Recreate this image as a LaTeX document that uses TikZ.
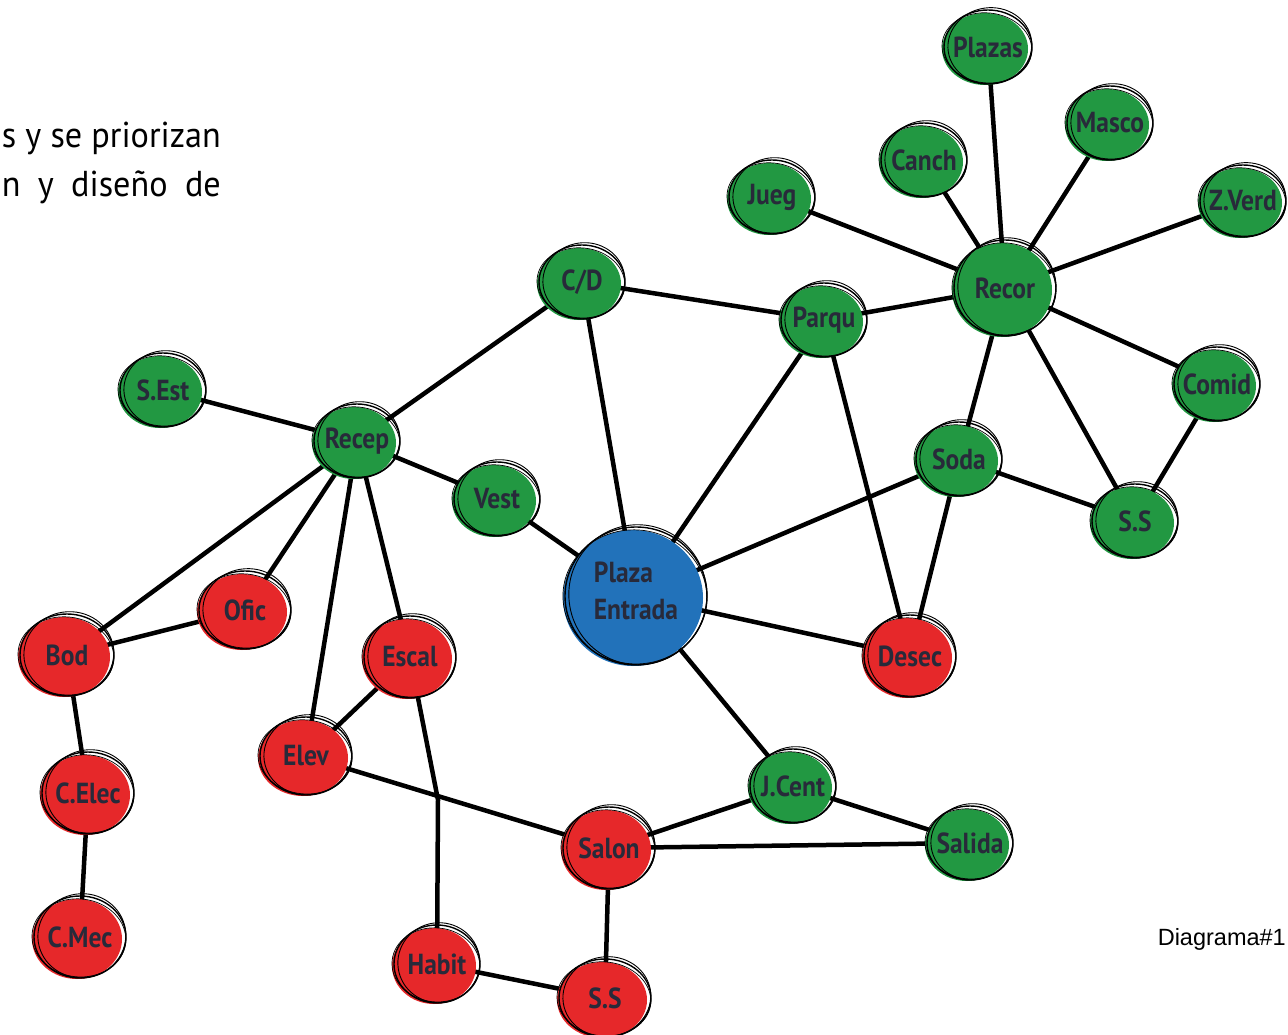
\documentclass[tikz,border=0pt]{standalone}
\usepackage{fontspec}
\setmainfont{PT Sans}
\newfontfamily\condb[FakeStretch=0.88]{PT Sans}
\newfontfamily\condr[FakeStretch=0.95]{PT Sans}
\newfontfamily\arialf{Liberation Sans}
\usetikzlibrary{backgrounds,calc}
\definecolor{gn}{RGB}{34,152,66}
\definecolor{rd}{RGB}{230,40,42}
\definecolor{bl}{RGB}{34,114,186}
\definecolor{tx}{RGB}{40,42,58}
\tikzset{
  edge/.style={line width=4.5pt},
  lbl/.style={font=\condb\bfseries\fontsize{29}{37}\selectfont, text=tx, inner sep=0pt},
  ringa/.style={line width=1.4pt},
  ringb/.style={line width=0.9pt},
  ringc/.style={line width=0.7pt},
}
\newcommand\sk[7]{%
  \fill[#6] (#2-3,#3+2) ellipse [x radius=#4, y radius=#5];
  \draw[ringa] (#2,#3) ellipse [x radius=#4+1, y radius=#5+1];
  \draw[ringb, rotate around={8:(#2,#3)}] (#2+2,#3-1) ellipse [x radius=#4-1, y radius=#5+2];
  \draw[ringc, rotate around={-6:(#2,#3)}] (#2-1,#3+1) ellipse [x radius=#4+2, y radius=#5-1];
  \node[lbl] (#1) at (#2,#3) {#7};
}
\begin{document}
\begin{tikzpicture}[x=1pt,y=-1pt]
\useasboundingbox (0,0) rectangle (1288,1035);

\node[anchor=east, inner sep=0pt, font=\condr\fontsize{36}{36}\selectfont] (t1) at (221,138) {\makebox[219pt][r]{s y se priorizan}};
\node[anchor=east, inner sep=0pt, font=\condr\fontsize{36}{36}\selectfont] (t2) at (221,187) {\makebox[219pt][s]{n\hfill y\hfill diseño\hfill de}};
\node[anchor=east, inner sep=0pt, font=\arialf\fontsize{23.5}{23.5}\selectfont] (dg) at (1286,939) {Diagrama\#1};

\sk{plazas}{988}{47}{43}{36}{gn}{Plazas}
\sk{masco}{1110}{123}{42}{36}{gn}{Masco}
\sk{canch}{924}{160}{42}{36}{gn}{Canch}
\sk{jueg}{772}{197}{42}{36}{gn}{Jueg}
\sk{zverd}{1243}{201}{42}{35}{gn}{Z.Verd}
\sk{recor}{1005}{288}{50}{47}{gn}{Recor}
\sk{cd}{582}{282}{42}{36}{gn}{C/D}
\sk{parqu}{824}{320}{42}{36}{gn}{Parqu}
\sk{sest}{163}{390}{42}{36}{gn}{S.Est}
\sk{recep}{357}{441}{42}{36}{gn}{Recep}
\sk{comid}{1217}{384}{42}{36}{gn}{Comid}
\sk{soda}{959}{459}{42}{36}{gn}{Soda}
\sk{vest}{497}{499}{42}{36}{gn}{Vest}
\sk{ssr}{1135}{521}{42}{36}{gn}{S.S}
\sk{plaza}{636}{596}{70}{68}{bl}{}
\node[lbl, align=left] (plazat) at (636,591) {Plaza\\Entrada};
\sk{ofic}{245}{610}{45}{38}{rd}{Ofic}
\sk{bod}{67}{655}{46}{40}{rd}{Bod}
\sk{escal}{410}{657}{45}{40}{rd}{Escal}
\sk{desec}{910}{656}{45}{40}{rd}{Desec}
\sk{elev}{306}{756}{45}{38}{rd}{Elev}
\sk{celec}{88}{793}{45}{40}{rd}{C.Elec}
\sk{jcent}{793}{786}{42}{36}{gn}{J.Cent}
\sk{salon}{609}{848}{45}{40}{rd}{Salon}
\sk{salida}{970}{843}{42}{36}{gn}{Salida}
\sk{cmec}{80}{937}{45}{40}{rd}{C.Mec}
\sk{habit}{437}{964}{42}{38}{rd}{Habit}
\sk{ssb}{605}{998}{45}{38}{rd}{S.S}

\coordinate (bend) at (438,800);
\begin{scope}[on background layer]
\fill[white] (0,0) rectangle (1288,1035);
\draw[edge] (plazas.center) -- (recor.center);
\draw[edge] (masco.center) -- (recor.center);
\draw[edge] (canch.center) -- (recor.center);
\draw[edge] (jueg.center) -- (recor.center);
\draw[edge] (zverd.center) -- (recor.center);
\draw[edge] (recor.center) -- (parqu.center);
\draw[edge] (recor.center) -- (comid.center);
\draw[edge] (recor.center) -- (soda.center);
\draw[edge] (recor.center) -- (ssr.center);
\draw[edge] (comid.center) -- (ssr.center);
\draw[edge] (soda.center) -- (ssr.center);
\draw[edge] (soda.center) -- (plaza.center);
\draw[edge] (soda.center) -- (desec.center);
\draw[edge] (parqu.center) -- (cd.center);
\draw[edge] (parqu.center) -- (plaza.center);
\draw[edge] (parqu.center) -- (desec.center);
\draw[edge] (cd.center) -- (plaza.center);
\draw[edge] (cd.center) -- (recep.center);
\draw[edge] (sest.center) -- (recep.center);
\draw[edge] (recep.center) -- (vest.center);
\draw[edge] (vest.center) -- (plaza.center);
\draw[edge] (recep.center) -- (bod.center);
\draw[edge] (recep.center) -- (ofic.center);
\draw[edge] (recep.center) -- (elev.center);
\draw[edge] (recep.center) -- (escal.center);
\draw[edge] (bod.center) -- (ofic.center);
\draw[edge] (bod.center) -- (celec.center);
\draw[edge] (celec.center) -- (cmec.center);
\draw[edge] (escal.center) -- (elev.center);
\draw[edge] (escal.center) -- (bend) -- (habit.center);
\draw[edge] (elev.center) -- (salon.center);
\draw[edge] (plaza.center) -- (desec.center);
\draw[edge] (plaza.center) -- (jcent.center);
\draw[edge] (jcent.center) -- (salon.center);
\draw[edge] (jcent.center) -- (salida.center);
\draw[edge] (salon.center) -- (salida.center);
\draw[edge] (salon.center) -- (ssb.center);
\draw[edge] (habit.center) -- (ssb.center);
\end{scope}
\end{tikzpicture}
\end{document}
